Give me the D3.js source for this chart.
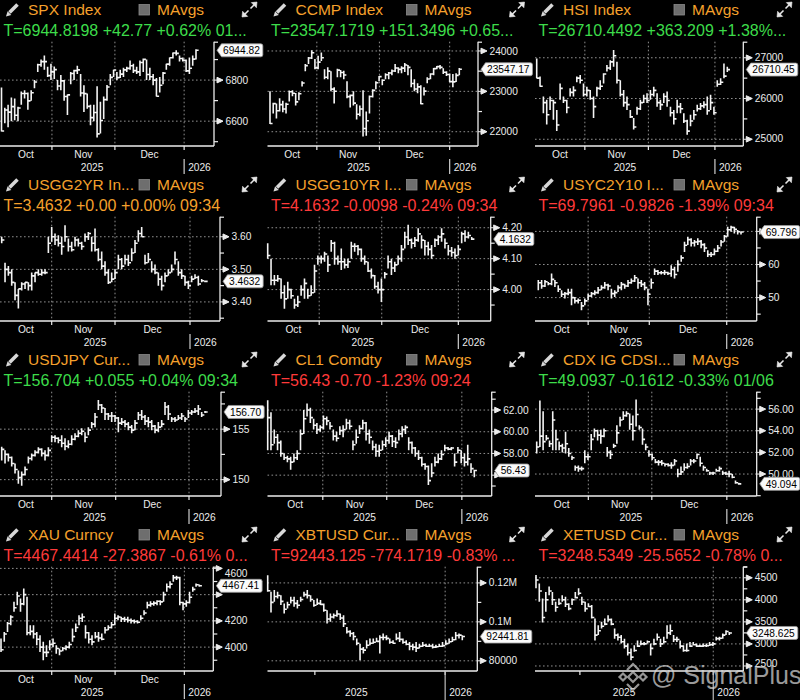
<!DOCTYPE html>
<html><head><meta charset="utf-8">
<script src="https://cdn.jsdelivr.net/npm/d3@7"></script>
<style>html,body{margin:0;padding:0;background:#000;}svg{display:block;}</style>
</head><body>
<svg id="c" width="800" height="700"></svg>
<script>
// ---------- DATA: each bar = [high, low, close] ----------
const spxBars = [[6764,6550,6552],[6665,6590,6654],[6680,6570,6644],[6715,6600,6671],[6710,6605,6629],[6670,6600,6664],[6745,6680,6735],[6750,6710,6735],[6740,6655,6699],[6750,6700,6738],[6800,6760,6791],[6880,6840,6875],[6900,6865,6890],[6920,6850,6890],[6865,6815,6822],[6880,6800,6840],[6866,6805,6851],[6800,6750,6771],[6825,6750,6796],[6800,6700,6720],[6730,6630,6728],[6840,6780,6832],[6850,6800,6846],[6870,6830,6850],[6830,6720,6737],[6775,6645,6734],[6735,6660,6672],[6680,6580,6617],[6680,6600,6642],[6770,6520,6538],[6695,6540,6603],[6720,6610,6705],[6776,6700,6766],[6830,6775,6813],[6850,6815,6849],[6840,6800,6812],[6850,6810,6829],[6860,6815,6850],[6865,6840,6857],[6895,6850,6870],[6880,6835,6846],[6865,6830,6840],[6895,6820,6886],[6905,6840,6901],[6900,6800,6827],[6860,6800,6816],[6830,6775,6800],[6810,6720,6721],[6815,6740,6775],[6840,6780,6834],[6880,6850,6878],[6910,6870,6909],[6935,6905,6932],[6945,6920,6930],[6920,6890,6905],[6910,6890,6896],[6900,6840,6845],[6910,6830,6858],[6920,6870,6902],[6950,6900,6945]];
const ccmpBars = [[23000,22190,22204],[22720,22450,22695],[22700,22330,22521],[22830,22500,22670],[22770,22480,22562],[22720,22450,22680],[23020,22750,22990],[23030,22880,22953],[22960,22650,22740],[22980,22780,22941],[23250,23120,23205],[23680,23500,23637],[23850,23680,23827],[24020,23800,23958],[23800,23550,23581],[23880,23550,23725],[23960,23750,23834],[23550,23300,23348],[23600,23300,23500],[23500,23000,23054],[23100,22700,23004],[23560,23350,23527],[23530,23350,23468],[23510,23300,23406],[23250,22830,22870],[22920,22600,22900],[23000,22650,22708],[22680,22300,22432],[22650,22380,22564],[23030,21880,22078],[22500,21900,22273],[22900,22450,22872],[23050,22850,23025],[23250,23050,23214],[23380,23250,23365],[23300,23150,23276],[23450,23300,23413],[23480,23300,23454],[23540,23400,23505],[23680,23480,23578],[23600,23450,23545],[23620,23450,23576],[23700,23480,23654],[23650,23400,23593],[23550,23100,23195],[23300,23000,23057],[23200,22950,23111],[23150,22680,22693],[23100,22900,23006],[23350,23200,23307],[23450,23300,23428],[23580,23400,23562],[23630,23550,23613],[23650,23550,23593],[23570,23430,23474],[23500,23380,23419],[23440,23230,23242],[23430,23100,23235],[23450,23230,23396],[23580,23400,23547]];
const hsiBars = [[26980,26500,26500],[26540,26290,26300],[26050,25640,25900],[25970,25360,25600],[26050,25720,25950],[25970,25480,25900],[25720,25200,25350],[26370,25970,26250],[26050,25890,25950],[25970,25640,25780],[26250,26050,26150],[26300,26050,26200],[26540,26400,26500],[26580,26370,26450],[26370,26050,26100],[26290,26050,26200],[26210,25970,26000],[26050,25520,25800],[26290,26050,26250],[26450,26210,26300],[26620,26370,26600],[26820,26660,26750],[26940,26700,26900],[27190,26780,27050],[26900,26370,26450],[26450,26050,26100],[26210,25800,25900],[26050,25720,25850],[25720,25520,25550],[25520,25240,25300],[25800,25600,25750],[25970,25720,25900],[26090,25890,26000],[26130,25890,25950],[26210,25970,26100],[26290,26050,26200],[26130,25800,25900],[25970,25720,25850],[26130,25890,26050],[26170,25800,25950],[25800,25560,25650],[25720,25360,25500],[25970,25640,25800],[25890,25640,25750],[25640,25400,25450],[25480,25110,25200],[25600,25320,25450],[25720,25480,25600],[25850,25680,25750],[25890,25720,25820],[25930,25760,25850],[26050,25600,25700],[26090,25720,25900],[25800,25600,25650],[26450,26290,26350],[26500,26330,26400],[26860,26500,26550],[26780,26650,26710]];
const us2yBars = [[3.60,3.58,3.59],[3.52,3.46,3.50],[3.51,3.48,3.49],[3.50,3.45,3.46],[3.46,3.405,3.42],[3.44,3.38,3.44],[3.46,3.435,3.455],[3.46,3.44,3.46],[3.46,3.435,3.45],[3.49,3.435,3.48],[3.49,3.46,3.49],[3.50,3.48,3.485],[3.50,3.48,3.49],[3.50,3.485,3.49],[3.60,3.55,3.58],[3.63,3.585,3.60],[3.61,3.575,3.59],[3.605,3.57,3.58],[3.60,3.545,3.57],[3.635,3.585,3.60],[3.595,3.555,3.57],[3.585,3.555,3.56],[3.60,3.57,3.59],[3.595,3.57,3.58],[3.585,3.56,3.57],[3.61,3.585,3.60],[3.615,3.59,3.61],[3.60,3.555,3.58],[3.625,3.555,3.56],[3.565,3.525,3.53],[3.555,3.50,3.51],[3.525,3.48,3.49],[3.50,3.455,3.46],[3.49,3.46,3.47],[3.50,3.47,3.49],[3.545,3.50,3.53],[3.535,3.50,3.51],[3.545,3.515,3.53],[3.545,3.51,3.52],[3.565,3.525,3.55],[3.59,3.55,3.58],[3.62,3.585,3.61],[3.63,3.60,3.60],[3.545,3.515,3.52],[3.55,3.52,3.53],[3.525,3.49,3.50],[3.515,3.485,3.49],[3.49,3.45,3.47],[3.48,3.435,3.45],[3.49,3.46,3.48],[3.50,3.48,3.49],[3.515,3.49,3.50],[3.555,3.515,3.53],[3.525,3.48,3.49],[3.50,3.47,3.48],[3.48,3.45,3.46],[3.465,3.44,3.45],[3.48,3.46,3.47],[3.485,3.47,3.475],[3.48,3.45,3.455],[3.47,3.46,3.465],[3.465,3.46,3.4632]];
const us10yBars = [[4.15,4.10,4.11],[4.10,4.014,4.03],[4.047,4.014,4.03],[4.047,4.025,4.035],[4.036,3.97,3.99],[4.014,3.938,3.97],[4.025,3.97,4.00],[4.003,3.97,3.98],[3.97,3.938,3.95],[3.98,3.944,3.96],[4.014,3.98,4.00],[4.036,3.97,4.02],[4.003,3.97,3.98],[4.014,3.98,3.99],[4.08,3.99,4.06],[4.11,4.08,4.10],[4.11,4.084,4.10],[4.122,4.09,4.115],[4.11,4.057,4.08],[4.16,4.122,4.15],[4.155,4.08,4.10],[4.11,4.08,4.09],[4.133,4.063,4.09],[4.10,4.068,4.08],[4.10,4.07,4.09],[4.155,4.10,4.14],[4.15,4.122,4.14],[4.144,4.111,4.13],[4.133,4.09,4.10],[4.11,4.08,4.09],[4.09,4.057,4.06],[4.068,4.036,4.045],[4.047,4.003,4.01],[4.025,3.987,4.00],[4.036,3.96,4.00],[4.057,4.036,4.05],[4.11,4.068,4.09],[4.10,4.047,4.07],[4.09,4.057,4.08],[4.11,4.08,4.10],[4.144,4.09,4.13],[4.187,4.133,4.17],[4.21,4.144,4.16],[4.165,4.133,4.15],[4.17,4.138,4.16],[4.198,4.155,4.18],[4.176,4.133,4.16],[4.16,4.11,4.14],[4.155,4.11,4.13],[4.144,4.10,4.11],[4.165,4.138,4.16],[4.176,4.144,4.17],[4.198,4.155,4.18],[4.165,4.133,4.15],[4.144,4.11,4.125],[4.138,4.106,4.12],[4.133,4.10,4.11],[4.144,4.11,4.13],[4.187,4.15,4.18],[4.192,4.155,4.17],[4.187,4.165,4.175],[4.17,4.16,4.1632]];
const us2s10Bars = [[55.3,52.2,54.5],[55.3,52.7,53.5],[55.3,53.2,54.8],[54.7,53.7,54.2],[57.3,53.7,55.5],[55.3,53.2,54.5],[53.7,51.7,52.5],[52.2,50.2,51],[51.7,49.7,51.2],[52.7,50.7,51.5],[52.7,47.7,50],[50.2,48.2,49],[49.7,48.2,49.2],[48.7,46.2,47.5],[49.7,47.7,49],[51.2,49.2,50.5],[51.7,50.2,51.2],[52.2,50.7,51.5],[53.2,51.2,52.3],[53.7,52.2,53],[54.7,52.7,53.8],[54.2,52.2,53.5],[52.7,49.7,51.2],[52.2,50.2,51.5],[53.7,51.7,53],[54.7,52.2,54],[54.2,52.7,53.5],[55.3,53.2,54.5],[55.8,54.2,55],[56.8,54.7,56],[55.8,52.7,54.5],[55.3,53.2,54],[54.7,52.2,53],[52.7,47.7,51],[55.8,52.7,54.5],[58.8,56.8,58],[58.3,56.8,57.5],[58,57,57.5],[58.3,56.8,57.6],[57.8,56.8,57.3],[59.8,56.3,58.5],[59.3,55.8,57],[61.3,57.8,60],[62.8,60.8,62],[66.9,63.8,65.8],[68.4,65.9,67.5],[67.9,65.4,66.5],[67.4,65.4,66.8],[67.9,65.9,67],[67.4,64.9,66],[66.4,63.8,65],[64.3,62.3,63],[63.8,62.3,63],[64.8,62.8,64],[65.9,63.8,65],[67.4,65.4,66.8],[68.9,66.9,68.5],[71.4,68.4,70.5],[71.7,69.9,71.2],[71.4,69.4,70.6],[70.4,69.1,69.9],[69.9,69.1,69.796]];
const jpyBars = [[153.25,151.9,153],[152.9,151.6,152.5],[152.6,151.8,152.2],[152.3,151.3,151.6],[151.6,150.6,151],[150.9,149.6,150.2],[150.8,149.4,150.5],[151.3,150.4,151],[152.3,151.6,152.1],[152.6,151.9,152.4],[152.9,152.3,152.7],[153.2,152.6,153],[153.1,152.3,152.6],[152.9,151.9,152.4],[153.2,152.3,152.9],[154.4,153.7,154.2],[154.4,153.7,154.1],[154.2,153.6,153.9],[154.4,153.2,153.6],[154.1,152.9,153.3],[153.9,153.1,153.5],[154.4,153.4,154],[154.6,153.9,154.3],[154.9,154.2,154.6],[155.1,154.4,154.8],[154.7,153.7,154.2],[155.2,154.4,154.9],[155.7,155.1,155.5],[156.6,155.2,156.2],[157.9,156.9,157.4],[157.5,156.6,157.1],[157.1,155.9,156.5],[156.6,155.9,156.3],[156.7,155.7,156.3],[156.4,155.7,156.1],[156.2,154.7,155.6],[156.1,155.4,155.7],[155.9,155.2,155.5],[155.7,154.9,155.2],[155.4,154.6,154.9],[155.9,154.9,155.6],[156.7,155.9,156.4],[156.9,155.9,156.2],[156.4,155.4,155.8],[156.2,155.2,155.7],[155.9,154.9,155.3],[155.4,154.6,154.9],[155.7,154.7,155.2],[155.9,155.2,155.5],[157.7,156.4,157.2],[157.4,155.9,156.5],[156.2,155.7,156],[156.2,155.7,155.9],[156.4,155.9,156.1],[156.6,155.9,156.3],[156.2,155.7,156],[156.9,156.1,156.6],[156.9,156.4,156.7],[157.1,156.6,156.8],[157.4,156.4,157],[156.7,156.2,156.4],[156.8,156.6,156.704]];
const cl1Bars = [[62.9,58.3,61.3],[61.8,58.3,58.8],[60.2,58.9,59.5],[59.8,58.3,59],[59.2,57.7,58],[58,57.4,57.6],[57.8,57.2,57.5],[57.7,56.5,57.2],[58,57.2,57.6],[58.3,57.4,58],[60.2,58.3,59.8],[62,59.8,61.2],[62.6,61.4,62],[62.2,60.8,61.3],[61.2,60.2,60.6],[60.8,59.8,60.2],[60.6,60,60.4],[61.5,60.2,61.2],[61.4,60.6,61],[60.9,60.2,60.5],[60.2,59.2,59.6],[60,59.1,59.4],[60.5,59.7,60.1],[60.6,59.5,60.2],[61.2,60.2,60.8],[61.1,60.2,60.5],[59.2,58.3,58.8],[60.2,58.9,59.5],[60.6,59.8,60.3],[61.1,60.2,60.8],[60.9,59.2,59.8],[60.2,58.9,59.5],[59.2,58.3,58.6],[58.9,57.7,58.2],[58.8,57.7,58.3],[59.2,58.3,58.8],[59.5,58.6,59.2],[60,58.9,59.6],[59.7,58.6,59.1],[59.5,58.5,59],[60.2,59.2,59.8],[60.5,59.5,60.2],[60.6,59.8,60.4],[59.5,58.3,59],[59.1,58,58.5],[58.6,57.7,58],[58.3,57.4,57.6],[57.7,56.8,57],[57.1,56.5,56.8],[56.9,55.1,55.5],[57.1,55.8,56.2],[57.7,56.8,57.2],[58,57.1,57.5],[58.3,57.4,57.9],[58.8,58.2,58.5],[58.6,58.3,58.4],[58.6,58.3,58.5],[58,56.8,57.2],[58.6,58,58.3],[58.3,57.1,57.6],[58,56.8,57.2],[58.8,56.9,57.5],[57.1,56.2,56.6],[56.5,55.8,56.43]];
const cdxBars = [[53,51.9,52.5],[56.8,52.5,53.5],[55.8,52.2,53],[53.6,53.1,53.3],[53.1,52.5,52.8],[55.8,52.2,55],[54.1,52.2,53.2],[53,52.2,52.6],[52.8,52,52.4],[53.9,51.9,52.8],[52.4,51.6,51.9],[51.7,51.3,51.5],[50.8,50.3,50.6],[50.8,50.2,50.5],[50.7,50.3,50.5],[52.2,51,51.6],[51.9,51.3,51.6],[53.7,52.2,53.2],[54.2,53.4,54],[54.1,53.1,53.6],[54.1,52.8,53.5],[54.2,53.4,54],[52.5,51.6,52],[52.2,51.4,51.8],[52.8,52.4,52.6],[54.5,52.8,53.8],[55.3,54.4,55],[55.8,55,55.4],[55.8,55.3,55.6],[55.6,54.1,54.6],[55.4,53.1,54],[56.9,54.4,55.5],[54.5,54.1,54.3],[54.2,52.7,53.2],[52.8,52.2,52.5],[52.2,51.6,51.8],[51.9,51.3,51.5],[51.4,51,51.1],[51.3,50.8,51.1],[51.3,50.8,51],[51,50.7,50.9],[51,50.7,50.8],[51.1,50.5,50.8],[51.4,50.8,51.2],[50.5,49.7,50],[50.7,49.9,50.2],[51,50.3,50.6],[51,50.5,50.7],[51.4,50.8,51.2],[51.4,51,51.2],[51.9,51.4,51.8],[51.6,50.7,51],[50.8,50.3,50.6],[50.5,50.2,50.3],[50.2,49.9,50.1],[50.2,49.9,50.1],[50.5,50.2,50.3],[50.7,50.2,50.5],[50.3,49.9,50.1],[50.2,49.9,50],[50.3,49.7,50],[50,49.6,49.7],[49.4,49.1,49.2],[49.2,49,49.094]];
const xauBars = [[4065,3963,3980],[4116,4040,4100],[4192,4116,4180],[4243,4167,4230],[4345,4269,4300],[4422,4320,4390],[4371,4269,4330],[4447,4320,4400],[4383,4090,4110],[4167,4090,4120],[4167,4065,4100],[4116,4014,4060],[4090,3963,4000],[4040,3900,3960],[4014,3925,3960],[4052,3976,4020],[4065,4001,4030],[4014,3950,3990],[3989,3938,3970],[4001,3968,3990],[4014,3976,4000],[4040,3989,4020],[4141,4040,4080],[4180,4116,4150],[4243,4167,4220],[4256,4192,4230],[4167,4065,4110],[4116,4027,4060],[4090,4014,4040],[4116,4065,4080],[4116,4040,4070],[4103,4052,4060],[4154,4103,4130],[4167,4129,4150],[4192,4141,4170],[4256,4167,4220],[4243,4205,4230],[4231,4192,4215],[4231,4192,4210],[4231,4187,4205],[4218,4180,4200],[4210,4180,4195],[4205,4180,4190],[4243,4205,4220],[4282,4243,4260],[4345,4294,4320],[4350,4307,4330],[4350,4315,4335],[4358,4320,4350],[4358,4320,4345],[4422,4345,4400],[4485,4422,4460],[4503,4447,4480],[4549,4498,4530],[4544,4511,4530],[4536,4320,4340],[4345,4282,4330],[4358,4307,4340],[4422,4332,4380],[4460,4422,4440],[4485,4460,4475],[4478,4460,4467.41]];
const xbtBars = [[124000,115500,116000],[115450,104800,110000],[116300,110300,113000],[115450,112000,113500],[113700,108600,110500],[109400,104300,106500],[110300,106900,108800],[112900,109400,111000],[112900,107700,109500],[111200,106900,108500],[112900,110300,111500],[115450,112900,114000],[116300,112000,113500],[113700,110300,111500],[111200,107700,108500],[112000,108600,109500],[111200,108600,109000],[109400,105200,106000],[106000,99100,101500],[104300,100000,102500],[104300,101700,103300],[106000,102600,104000],[104300,100900,102000],[103400,97400,99000],[97400,94000,95000],[95700,92300,94000],[94800,90600,92500],[91400,88000,89000],[88800,80300,86000],[87100,83700,85500],[90600,86300,88000],[91400,88000,89000],[91400,88800,89500],[91800,89700,90000],[93100,83700,92000],[94000,90600,92000],[93100,90600,91500],[91400,88800,89500],[90600,88800,89000],[94000,90600,91500],[94800,89700,91000],[91400,88800,89500],[90600,88000,88500],[89700,85400,87500],[88800,85400,87000],[89700,84500,86500],[88800,86300,87500],[89700,87100,88000],[88800,87100,87500],[88800,87100,87600],[88800,86300,87000],[88300,86600,87200],[88800,87100,87500],[89700,87100,87800],[90600,88000,88800],[91400,88800,89800],[92300,89700,90800],[94800,90600,93000],[94000,91400,93200],[93100,90600,92441.81]];
const xetBars = [[4560,4260,4450],[4370,3955,4200],[4030,3485,3600],[4180,3730,4000],[4300,4105,4200],[4180,3880,4000],[3955,3730,3830],[4030,3880,3920],[4105,3955,4000],[4070,3840,3900],[3920,3765,3800],[4030,3880,4000],[4180,4030,4050],[4260,4105,4150],[4070,3880,3950],[3955,3730,3800],[3920,3840,3850],[3880,3575,3600],[3575,3080,3200],[3425,3200,3300],[3500,3350,3400],[3575,3425,3450],[3650,3500,3550],[3575,3425,3450],[3350,3120,3200],[3235,3080,3150],[3200,3010,3050],[3120,2895,2950],[3010,2740,2800],[2895,2630,2700],[2970,2820,2850],[3080,2930,2950],[3080,2970,3000],[3045,2970,3000],[3080,3010,3050],[3010,2740,2900],[3120,2970,3000],[3235,3080,3150],[3120,2930,3000],[3160,3010,3050],[3425,3120,3250],[3440,3200,3300],[3200,3045,3100],[3160,3045,3100],[3080,2895,2950],[2970,2820,2850],[3010,2820,2850],[3045,2930,2950],[3045,2970,2980],[3010,2930,2950],[2985,2930,2950],[3010,2930,2960],[3010,2930,2960],[3045,2955,2980],[3045,2955,3000],[3160,3080,3120],[3160,3080,3130],[3235,3120,3200],[3310,3200,3280],[3270,3200,3248.6]];

const titles = ["SPX Index","CCMP Index","HSI Index","USGG2YR In...","USGG10YR I...","USYC2Y10 I...","USDJPY Cur...","CL1 Comdty","CDX IG CDSI...","XAU Curncy","XBTUSD Cur...","XETUSD Cur..."];
const quotes = ["T=6944.8198 +42.77 +0.62% 01...","T=23547.1719 +151.3496 +0.65...","T=26710.4492 +363.209 +1.38%...","T=3.4632 +0.00 +0.00% 09:34","T=4.1632 -0.0098 -0.24% 09:34","T=69.7961 -0.9826 -1.39% 09:34","T=156.704 +0.055 +0.04% 09:34","T=56.43 -0.70 -1.23% 09:24","T=49.0937 -0.1612 -0.33% 01/06","T=4467.4414 -27.3867 -0.61% 0...","T=92443.125 -774.1719 -0.83% ...","T=3248.5349 -25.5652 -0.78% 0..."];
const quoteDir = ["up","up","up","flat","down","down","up","down","up","down","down","down"];
const lastLabels = ["6944.82","23547.17","26710.45","3.4632","4.1632","69.796","156.70","56.43","49.094","4467.41","92441.81","3248.625"];
const monthNames = ["Oct","Nov","Dec"];
const yearNames = ["2025","2026"];
const yDomains = [[6479,6987],[21646,24230],[24835,27394],[3.3414,3.6616],[3.8984,4.2357],[42.93,74.44],[148.38,158.71],[54.08,63.69],[47.97,57.61],[3818,4613],[74760,128330],[2386,4751]];
const majorTicks = [[6600,6800],[22000,23000,24000],[25000,26000,27000],[3.40,3.50,3.60],[4.00,4.10,4.20],[50,60,70],[150,155],[56,58,60,62],[50,52,54,56],[4000,4200,4400,4600],[80000,100000,120000],[2500,3000,3500,4000,4500]];
const minorTicks = [[6500,6700,6900],[22500,23500],[25500,26500],[3.35,3.45,3.55],[3.95,4.05,4.15],[45,55,65],[152.5,157.5],[55,63],[48,57],[3900,4100,4300,4500],[90000,110000],[2750,3250,3750,4250,4750]];
// month boundaries (in bar-index units): Nov, Dec, Jan  (crypto: Jan only)
const monthBreaks = [[15.3,34.4,55.4],[14.6,34.1,56.0],[14.4,33.4,53.3],[15.0,34.0,56.5],[15.4,34.1,57.0],[15.0,33.4,56.7],[15.0,34.2,56.2],[16.8,36.3,59.2],[16.1,35.9,59.3],[15.6,35.1,56.4],[null,null,53.8],[null,null,54.1]];
const cryptoTick = [null,null,null,null,null,null,null,null,null,null,14.3,13.4];

const allBars = [spxBars,ccmpBars,hsiBars,us2yBars,us10yBars,us2s10Bars,jpyBars,cl1Bars,cdxBars,xauBars,xbtBars,xetBars];

// ---------- LAYOUT (per panel, pixels) ----------
const layout = [
 {xFirst:1.5,xLast:196,axisX:214,fmt:"d"},
 {xFirst:5,xLast:194.3,axisX:213,fmt:"d"},
 {xFirst:6.7,xLast:197.3,axisX:213.3,fmt:"d"},
 {xFirst:1.7,xLast:205,axisX:220,fmt:".2f"},
 {xFirst:2.7,xLast:206.7,axisX:225.7,fmt:".2f"},
 {xFirst:8.3,xLast:211,axisX:226.7,fmt:"d"},
 {xFirst:1.7,xLast:205,axisX:221,fmt:"d"},
 {xFirst:2.7,xLast:209.3,axisX:226.7,fmt:".2f"},
 {xFirst:6.7,xLast:208.7,axisX:226.7,fmt:".2f"},
 {xFirst:1,xLast:199.3,axisX:213.3,fmt:"d"},
 {xFirst:2.7,xLast:197.3,axisX:212.3,fmt:"btc"},
 {xFirst:6,xLast:199.3,axisX:213.3,fmt:"d"}
];
const colX=[0,265,530], hdrDX=[0,2.5,5], rowY=[0,175,350,525];
const plotTop=41.7, plotBot=146;
const FONT="'Liberation Sans', Arial, sans-serif";
const ORANGE="#f5a02c", GREEN="#3ddc4a", RED="#ff3a3a", WHITE="#ececec", GRID="#8f8f8f";
const qColor={up:GREEN,down:RED,flat:ORANGE};

const svg=d3.select("#c");
svg.append("rect").attr("width",800).attr("height",700).attr("fill","#000");

function fmtFn(f){
  if(f==="btc") return v=> v>=100000 ? (v/1e6)+"M" : String(v);
  return d3.format(f);
}

allBars.forEach((bars,i)=>{
  const c=i%3, r=Math.floor(i/3), L=layout[i];
  const g=svg.append("g").attr("transform",`translate(${colX[c]},${rowY[r]})`);
  const left=hdrDX[c];
  const h=g.append("g").attr("transform",`translate(${hdrDX[c]},0)`);
  h.append("line").attr("x1",9.5).attr("y1",12.5).attr("x2",17.5).attr("y2",4.5).attr("stroke","#d8d8d8").attr("stroke-width",3.6);
  h.append("path").attr("d","M6,16.5 L7.6,11.2 L11.3,14.9 Z").attr("fill","#d8d8d8");
  h.append("text").attr("x",28).attr("y",15).attr("font-family",FONT).attr("font-size",15.5).attr("fill",ORANGE).text(titles[i]);
  h.append("rect").attr("x",139).attr("y",4.5).attr("width",10.5).attr("height",10.5).attr("fill","#6e6e6e").attr("stroke","#8a8a8a").attr("stroke-width",0.8);
  h.append("text").attr("x",157).attr("y",15).attr("font-family",FONT).attr("font-size",15.5).attr("fill",ORANGE).text("MAvgs");
  const ic=h.append("g").attr("stroke","#e6e6e6").attr("stroke-width",1.6).attr("fill","#e6e6e6");
  ic.append("line").attr("x1",250.5).attr("y1",8.5).attr("x2",255).attr("y2",4);
  ic.append("path").attr("d","M257,2 L251.3,2.6 L256.4,7.7 Z").attr("stroke-width",0.6);
  ic.append("line").attr("x1",248.5).attr("y1",10.5).attr("x2",244).attr("y2",15);
  ic.append("path").attr("d","M242,17 L242.6,11.3 L247.7,16.4 Z").attr("stroke-width",0.6);
  h.append("text").attr("x",3.5).attr("y",35.7).attr("font-family",FONT).attr("font-size",16).attr("fill",qColor[quoteDir[i]]).text(quotes[i]);

  const x=d3.scaleLinear().domain([0,bars.length-1]).range([L.xFirst,L.xLast]);
  const y=d3.scaleLinear().domain(yDomains[i]).range([plotBot,plotTop]);
  const ax=L.axisX;
  const f=fmtFn(L.fmt);
  const br=monthBreaks[i];
  const step=(L.xLast-L.xFirst)/(bars.length-1);
  const last=bars[bars.length-1][2];
  const by=y(last);

  majorTicks[i].forEach(v=>{
    const yy=y(v);
    if(yy<plotTop-0.5||yy>plotBot) return;
    g.append("line").attr("x1",left).attr("x2",ax).attr("y1",yy).attr("y2",yy)
      .attr("stroke",GRID).attr("stroke-width",1).attr("stroke-dasharray","1.6,2.4");
  });
  br.forEach(b=>{
    if(b===null) return;
    g.append("line").attr("x1",x(b)).attr("x2",x(b)).attr("y1",plotTop).attr("y2",plotBot)
      .attr("stroke",GRID).attr("stroke-width",1).attr("stroke-dasharray","1.6,2.4");
  });

  const bp=bars.map((d,k)=>{
    const xx=x(k);
    return `M${xx.toFixed(2)},${y(d[0]).toFixed(2)}V${y(d[1]).toFixed(2)}M${xx.toFixed(2)},${y(d[2]).toFixed(2)}H${(xx+step*0.8).toFixed(2)}`;
  }).join("");
  g.append("path").attr("d",bp).attr("stroke","#f4f4f4").attr("stroke-width",1.6).attr("fill","none");

  g.append("line").attr("x1",left).attr("x2",ax).attr("y1",plotBot).attr("y2",plotBot).attr("stroke",WHITE).attr("stroke-width",1.3);
  g.append("line").attr("x1",ax).attr("x2",ax).attr("y1",plotTop).attr("y2",plotBot).attr("stroke",WHITE).attr("stroke-width",1.3);
  g.append("line").attr("x1",ax).attr("x2",ax+4).attr("y1",plotTop+0.5).attr("y2",plotTop+0.5).attr("stroke",WHITE).attr("stroke-width",1.2);
  minorTicks[i].forEach(v=>{
    const yy=y(v); if(yy<plotTop||yy>plotBot) return;
    g.append("line").attr("x1",ax).attr("x2",ax+4).attr("y1",yy).attr("y2",yy).attr("stroke",WHITE).attr("stroke-width",1.2);
  });
  majorTicks[i].forEach(v=>{
    const yy=y(v); if(yy<plotTop-0.5||yy>plotBot) return;
    g.append("path").attr("d",`M${ax},${yy}H${ax+3}M${ax+3},${yy-2.8}L${ax+9},${yy}L${ax+3},${yy+2.8}Z`)
      .attr("stroke",WHITE).attr("stroke-width",1).attr("fill",WHITE);
    const ly=Math.max(plotTop+7,Math.min(plotBot-8,yy));
    if(Math.abs(ly-by)<9.5) return; // hidden behind last-value box
    g.append("text").attr("x",ax+11.5).attr("y",ly).attr("dy","0.35em").attr("font-family",FONT).attr("font-size",10.2)
      .attr("fill",WHITE).text(f(v));
  });

  br.forEach(b=>{ if(b===null) return;
    g.append("line").attr("x1",x(b)).attr("x2",x(b)).attr("y1",plotBot).attr("y2",plotBot+4).attr("stroke",WHITE).attr("stroke-width",1.2);
  });
  if(cryptoTick[i]!==null){
    g.append("line").attr("x1",x(cryptoTick[i])).attr("x2",x(cryptoTick[i])).attr("y1",plotBot).attr("y2",plotBot+4).attr("stroke",WHITE).attr("stroke-width",1.2);
  }
  const jan=x(br[2]);
  if(br[0]!==null){
    const nov=x(br[0]), dec=x(br[1]);
    const centers=[(left+nov)/2,(nov+dec)/2,(dec+jan)/2];
    monthNames.forEach((m,k)=>{
      g.append("text").attr("x",centers[k]).attr("y",157.5).attr("text-anchor","middle").attr("font-family",FONT).attr("font-size",10.2).attr("fill",WHITE).text(m);
    });
    g.append("line").attr("x1",jan).attr("x2",jan).attr("y1",159).attr("y2",174).attr("stroke","#cfcfcf").attr("stroke-width",1.2);
  } else {
    g.append("line").attr("x1",jan).attr("x2",jan).attr("y1",plotBot).attr("y2",175).attr("stroke","#bdbdbd").attr("stroke-width",1.2);
  }
  g.append("text").attr("x",(left+jan)/2).attr("y",171).attr("text-anchor","middle").attr("font-family",FONT).attr("font-size",10.2).attr("fill",WHITE).text(yearNames[0]);
  g.append("text").attr("x",jan+4).attr("y",171).attr("font-family",FONT).attr("font-size",10.2).attr("fill",WHITE).text(yearNames[1]);

  const bx=ax+3;
  const bgp=g.append("g");
  const path=bgp.append("path");
  const t=bgp.append("text").attr("x",bx+6).attr("y",by).attr("dy","0.36em").attr("font-family",FONT).attr("font-size",10.2).attr("fill","#000").text(lastLabels[i]);
  const tw=t.node().getComputedTextLength();
  const rx=bx+6+tw+3;
  path.attr("d",`M${bx},${by}L${bx+4.5},${by-6.5}H${rx-2}Q${rx},${by-6.5} ${rx},${by-4.5}V${by+4.5}Q${rx},${by+6.5} ${rx-2},${by+6.5}H${bx+4.5}Z`)
    .attr("fill","#fafafa").attr("stroke","#9a9a9a").attr("stroke-width",0.8);
});

// watermark
const wm=svg.append("g").attr("opacity",0.72);
const lg=wm.append("g").attr("transform","translate(633,677)").attr("fill","none").attr("stroke","#d0d0d0").attr("stroke-width",2.2);
lg.append("rect").attr("x",-3.5).attr("y",-3.5).attr("width",7).attr("height",7).attr("transform","rotate(45)");
lg.append("rect").attr("x",-2.5).attr("y",-2.5).attr("width",5).attr("height",5).attr("transform","translate(-10,0) rotate(45)");
lg.append("rect").attr("x",-2.5).attr("y",-2.5).attr("width",5).attr("height",5).attr("transform","translate(10,0) rotate(45)");
lg.append("path").attr("d","M-6,-7 L0,-13 L6,-7");
lg.append("path").attr("d","M-6,7 L0,13 L6,7");
wm.append("text").attr("x",651).attr("y",684).attr("font-family",FONT).attr("font-size",25).attr("fill","#d6d6d6").text("@ SignalPlus");
</script>
</body></html>
